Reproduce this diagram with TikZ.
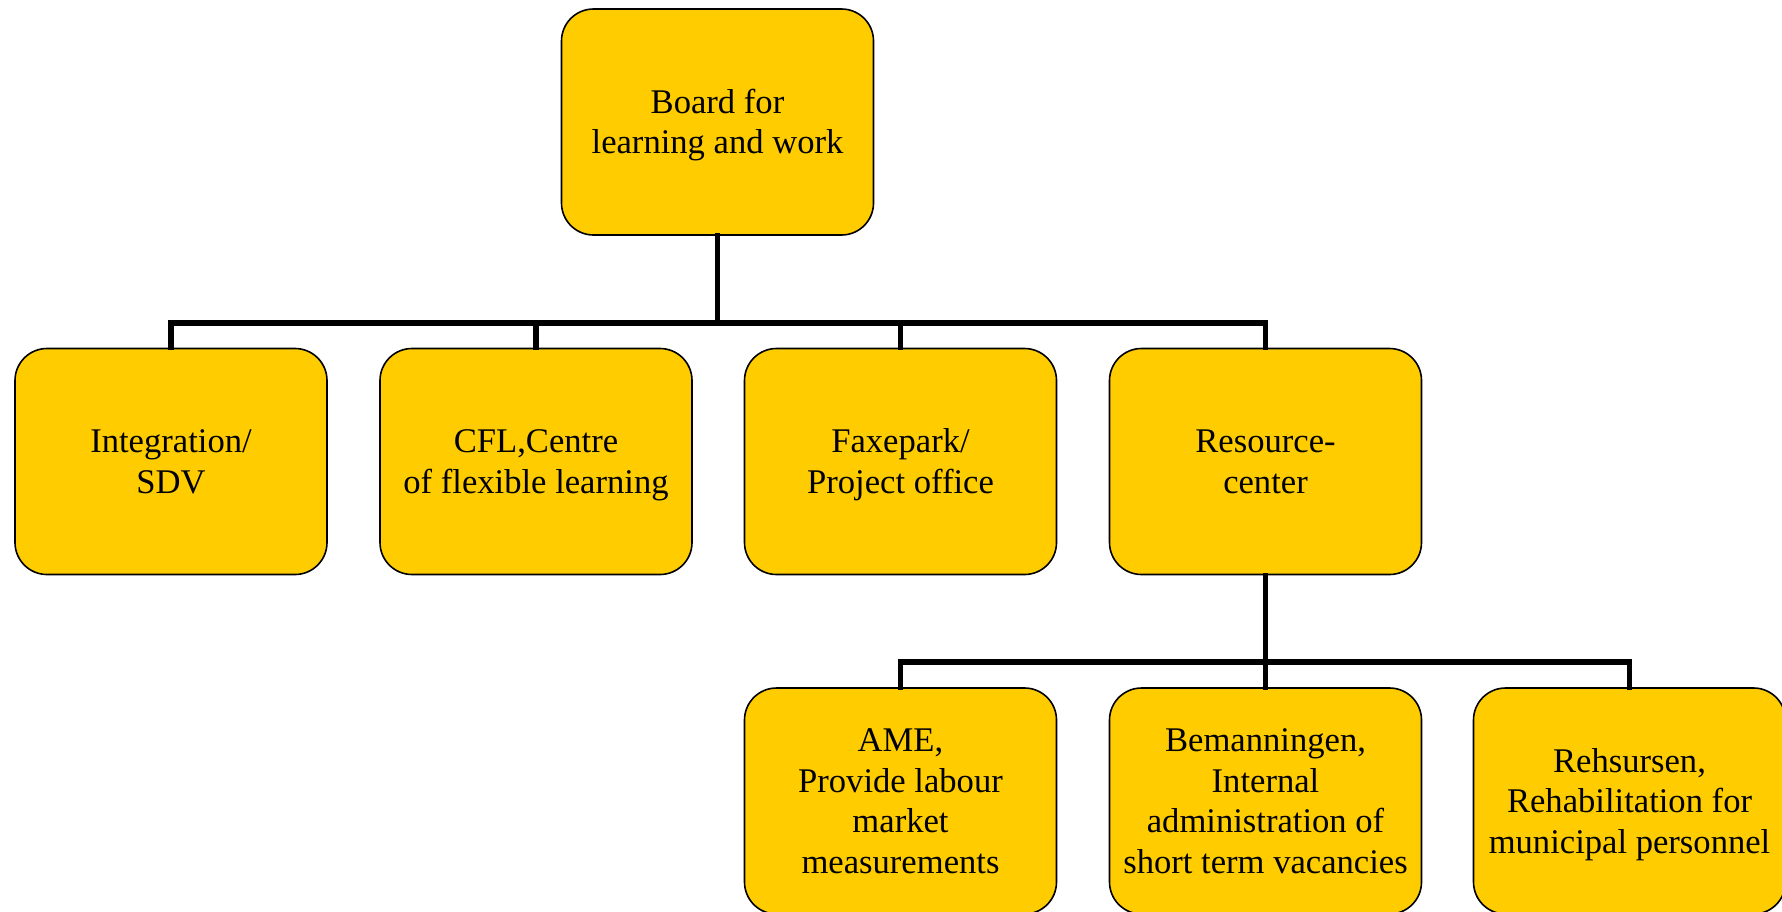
\documentclass[tikz,border=0pt]{standalone}
\usepackage{fontspec}
\setmainfont{Liberation Serif}
\definecolor{boxfill}{RGB}{255,204,0}
\newcommand\ps{\rule[-0.216em]{0pt}{1.107em}}
\begin{document}
\begin{tikzpicture}[x=0.5pt,y=-0.5pt,
  orgbox/.style={draw=black, line width=0.8pt, fill=boxfill, rounded corners=16pt,
    minimum width=156pt, minimum height=113pt, align=center, inner sep=0pt,
    font=\fontsize{17.3}{20.3}\selectfont},
  link/.style={line width=2.6pt, line join=miter, line cap=rect}]
\useasboundingbox (0,0) rectangle (1782,911);
\node[orgbox] (top) at (717.5,122) {\ps Board for\\learning and work\ps};
\node[orgbox] (b1) at (171,461.5) {\ps Integration/\\SDV\ps};
\node[orgbox] (b2) at (536,461.5) {\ps CFL,Centre\\of flexible learning\ps};
\node[orgbox] (b3) at (900.5,461.5) {\ps Faxepark/\\Project office\ps};
\node[orgbox] (b4) at (1265.5,461.5) {\ps Resource-\\center\ps};
\node[orgbox] (c1) at (900.5,801) {\ps AME,\\Provide labour\\market\\measurements\ps};
\node[orgbox] (c2) at (1265.5,801) {\ps Bemanningen,\\Internal\\administration of\\short term vacancies\ps};
\node[orgbox] (c3) at (1629.5,801) {\ps Rehsursen,\\Rehabilitation for\\municipal personnel\ps};
\coordinate (j1) at (717.5,323);
\coordinate (j2) at (1265.5,662);
\draw[link] (top.south) -- (j1);
\draw[link] (b1.north) |- (j1);
\draw[link] (b2.north) |- (j1);
\draw[link] (b3.north) |- (j1);
\draw[link] (b4.north) |- (j1);
\draw[link] (b4.south) -- (j2);
\draw[link] (c1.north) |- (j2);
\draw[link] (c2.north) -- (j2);
\draw[link] (c3.north) |- (j2);
\end{tikzpicture}
\end{document}
